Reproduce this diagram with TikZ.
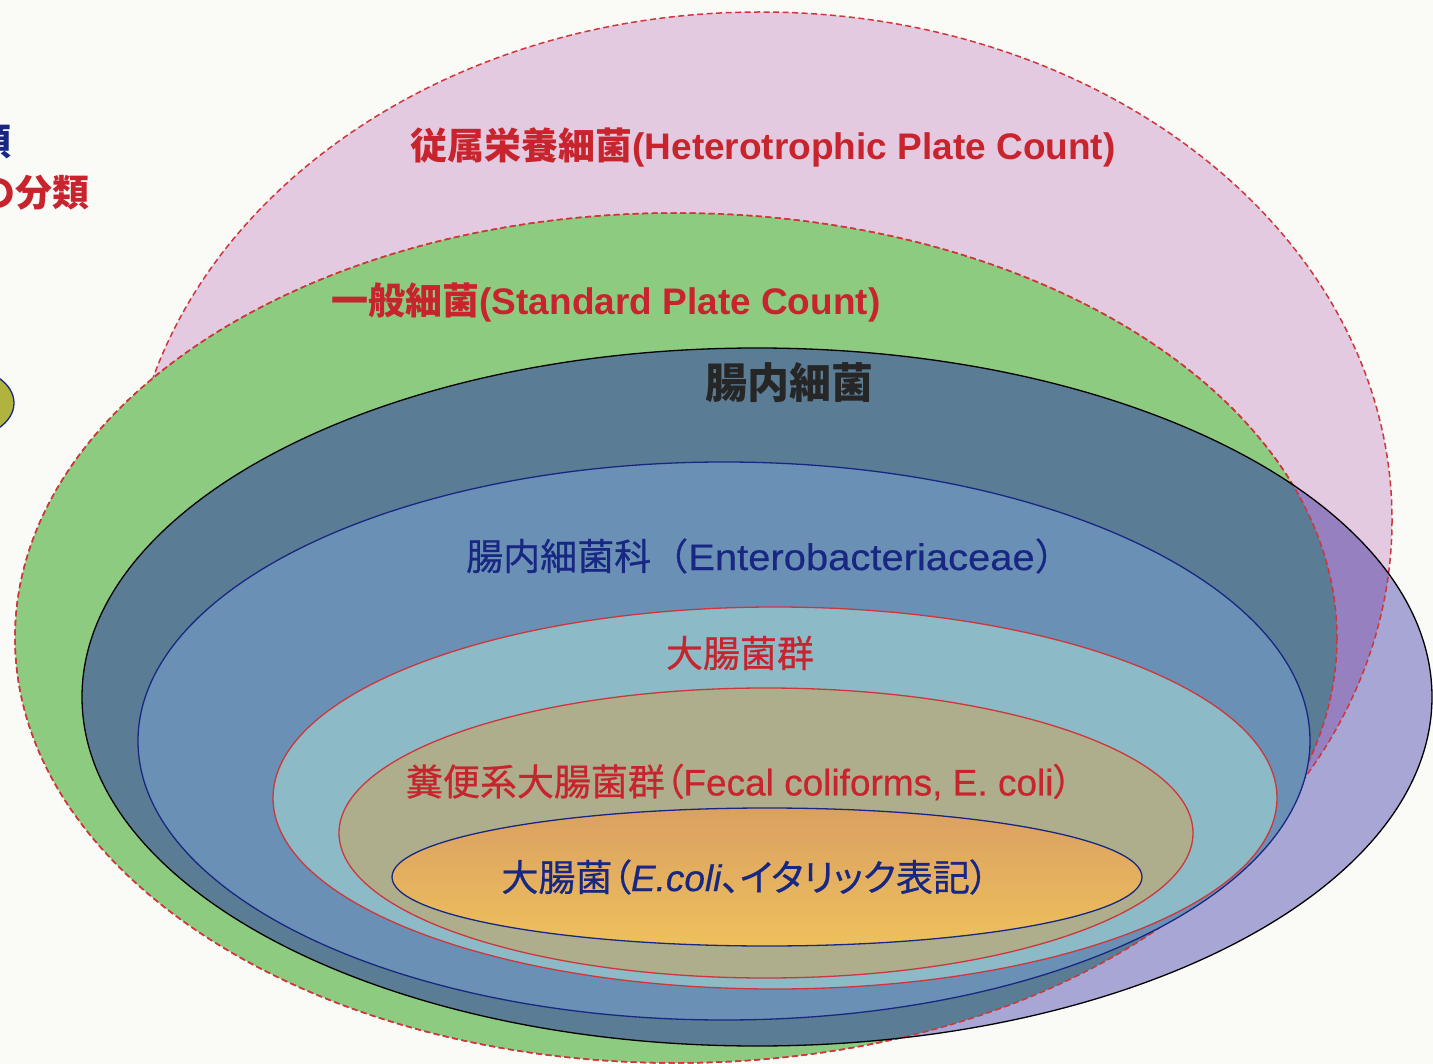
\documentclass[tikz,border=0pt]{standalone}
\usepackage{fontspec}
\setmainfont{Liberation Sans}
\newfontfamily\cjk{Noto Sans CJK JP}
\newfontfamily\cjkm[FakeBold=0.6]{Noto Sans CJK JP}
\newfontfamily\cjkp[FakeBold=0.6,RawFeature=+palt]{Noto Sans CJK JP}
\newfontfamily\latw[FakeStretch=1.08,FakeBold=0.5]{Liberation Sans}
\newfontfamily\latm[FakeBold=0.5]{Liberation Sans}
\definecolor{bg}{RGB}{250,250,246}
\definecolor{pinkf}{RGB}{228,202,224}
\definecolor{greenf}{RGB}{141,204,128}
\definecolor{lavf}{RGB}{168,166,212}
\definecolor{purpf}{RGB}{150,128,192}
\definecolor{slatef}{RGB}{90,124,148}
\definecolor{bluef}{RGB}{106,144,182}
\definecolor{tealf}{RGB}{140,186,198}
\definecolor{khakif}{RGB}{174,173,140}
\definecolor{orangetop}{RGB}{218,160,98}
\definecolor{orangebot}{RGB}{238,192,92}
\definecolor{dashred}{RGB}{205,55,60}
\definecolor{txtred}{RGB}{200,36,46}
\definecolor{navy}{RGB}{24,40,130}
\definecolor{olivef}{RGB}{176,180,62}
\definecolor{darktxt}{RGB}{38,38,38}
\begin{document}
\begin{tikzpicture}[x=1pt,y=-1pt,
  dashline/.style={draw=dashred, line width=1.5pt, dash pattern=on 6pt off 3.5pt},
  solidblack/.style={draw=black, line width=1.3pt},
  solidnavy/.style={draw=navy, line width=1.3pt},
  solidred/.style={draw=dashred, line width=1.3pt},
  lab/.style={inner sep=0pt, font=\fontsize{37}{42}\selectfont}]
\useasboundingbox (0,0) rectangle (1433,1064);
\clip (0,0) rectangle (1433,1064);
\fill[bg] (0,0) rectangle (1433,1064);

% small partial ellipse at left edge
\filldraw[fill=olivef, solidnavy] (-40,403) ellipse [x radius=54, y radius=36];

% pink: heterotrophic
\fill[pinkf] (760,520) ellipse [x radius=632, y radius=508];
\draw[dashline] (760,520) ellipse [x radius=632, y radius=508];

% green: standard plate count
\fill[greenf] (676,638) ellipse [x radius=661, y radius=425];
\draw[dashline] (676,638) ellipse [x radius=661, y radius=425];

% enteric bacteria (translucent look via region fills)
\fill[lavf] (757,697) ellipse [x radius=675, y radius=349];
\begin{scope}
  \clip (760,520) ellipse [x radius=632, y radius=508];
  \fill[purpf] (757,697) ellipse [x radius=675, y radius=349];
\end{scope}
\begin{scope}
  \clip (757,697) ellipse [x radius=675, y radius=349];
  \draw[dashline] (760,520) ellipse [x radius=632, y radius=508];
\end{scope}
\begin{scope}
  \clip (676,638) ellipse [x radius=661, y radius=425];
  \fill[slatef] (757,697) ellipse [x radius=675, y radius=349];
\end{scope}
\draw[dashline] (676,638) ellipse [x radius=661, y radius=425];
\draw[solidblack] (757,697) ellipse [x radius=675, y radius=349];

% Enterobacteriaceae
\filldraw[fill=bluef, solidnavy] (724,741) ellipse [x radius=586, y radius=279];
% coliforms
\filldraw[fill=tealf, solidred] (775,798) ellipse [x radius=502, y radius=191];
% fecal coliforms
\filldraw[fill=khakif, solidred] (766,833) ellipse [x radius=427, y radius=145];
% E. coli
\shade[top color=orangetop, bottom color=orangebot] (767,877) ellipse [x radius=375, y radius=69];
\draw[solidnavy] (767,877) ellipse [x radius=375, y radius=69];

% texts
\node[lab, anchor=east, text=navy, font=\fontsize{37}{42}\selectfont\bfseries] (t1) at (12,142) {\cjk 類};
\node[lab, anchor=east, text=txtred, font=\fontsize{37}{42}\selectfont\bfseries] (t2) at (90,193) {\cjk の分類};

\node[lab, text=txtred, font=\fontsize{37}{42}\selectfont\bfseries] (hpc) at (763,147)
  {{\cjk 従属栄養細菌}(Heterotrophic Plate Count)};
\node[lab, text=txtred, font=\fontsize{37}{42}\selectfont\bfseries] (spc) at (606,302)
  {{\cjk 一般細菌}(Standard Plate Count)};
\node[lab, text=darktxt, font=\fontsize{42}{46}\selectfont\bfseries] (ent) at (789,383)
  {\cjk 腸内細菌};
\node[lab, text=navy] (entf) at (769,556)
  {{\cjkm 腸内細菌科（}{\latw Enterobacteriaceae}{\cjkm ）}};
\node[lab, text=txtred] (coli) at (740,653)
  {\cjkm 大腸菌群};
\node[lab, text=txtred] (fecal) at (739,782)
  {{\cjkm 糞便系大腸菌群}{\cjkp （}{\latm Fecal coliforms, E. coli}{\cjkp ）}};
\node[lab, text=navy] (ecoli) at (745,877)
  {{\cjkm 大腸菌}{\cjkp （}{\latm\itshape E.coli}{\cjkp 、イタリック表記）}};
\end{tikzpicture}
\end{document}
